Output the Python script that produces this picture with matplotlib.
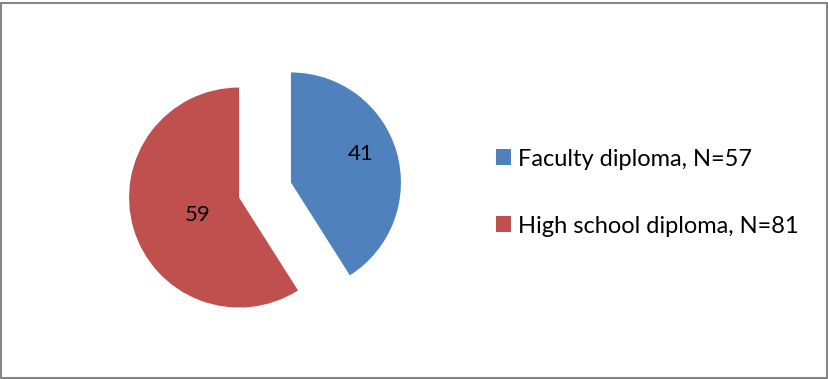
import numpy as np
import matplotlib.pyplot as plt
from matplotlib.patches import Rectangle, Patch

# diploma groups
labels = ['Faculty diploma, N=57', 'High school diploma, N=81']
shares = [41, 59]
colors = ['#4f81bd', '#c0504d']

plt.rcParams['font.family'] = ['Lato', 'DejaVu Sans']

fig = plt.figure(figsize=(8.29, 3.79), dpi=100)
ax = fig.add_axes([0, 0, 1, 1])

wedges, texts, autotexts = ax.pie(
    shares, colors=colors, startangle=90, counterclock=False,
    center=(265, 189), radius=110, explode=[27, 27],
    autopct=lambda p: f'{p:.0f}', pctdistance=0.6,
    textprops={'fontsize': 16, 'color': 'black'},
    wedgeprops={'linewidth': 0}, frame=True)
ax.set_xlim(0, 829)
ax.set_ylim(0, 379)
ax.set_aspect('equal')
ax.axis('off')

# nudge the value labels inside each slice
for w, t, d, da in zip(wedges, autotexts, [0.68, 0.41], [6, 6]):
    th = np.deg2rad((w.theta1 + w.theta2) / 2 + da)
    cx, cy = w.center
    t.set_position((cx + d * w.r * np.cos(th), cy + d * w.r * np.sin(th)))

handles = [Patch(facecolor=c, edgecolor='none') for c in colors]
ax.legend(handles, labels, loc='center left', bbox_to_anchor=(484 / 829, 0.492),
          frameon=False, fontsize=17, handlelength=0.65, handleheight=0.65,
          handletextpad=0.3, labelspacing=1.95, borderpad=0)

# outer chart border
fig.patches.append(Rectangle((1.5 / 829, 1.5 / 379), 826 / 829, 375 / 379,
                             transform=fig.transFigure, fill=False,
                             edgecolor='#868686', linewidth=1.5))

fig.savefig('out.png', dpi=100)
